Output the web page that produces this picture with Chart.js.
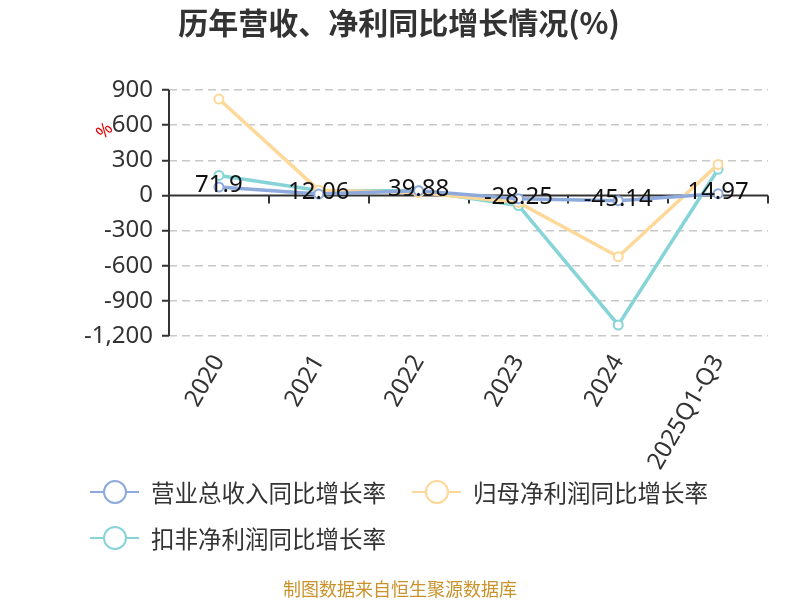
<!DOCTYPE html>
<html lang="zh-CN">
<head>
    <meta charset="UTF-8">
    <title>历年营收、净利同比增长情况(%)</title>
    <script src="https://cdn.jsdelivr.net/npm/chart.js"></script>
    <style>
        html, body { margin: 0; padding: 0; background: #fff; }
        #wrap { width: 800px; height: 600px; position: relative; }
    </style>
</head>
<body>
<div id="wrap"><canvas id="growthChart" width="800" height="600"></canvas></div>
<script>
    // 数据
    const categories = ['2020', '2021', '2022', '2023', '2024', '2025Q1-Q3'];
    const revenueGrowth = [71.9, 12.06, 39.88, -28.25, -45.14, 14.97];
    const netProfitGrowth = [823, 45, 25, -60, -523, 265];
    const deductedProfitGrowth = [171, 43, 40, -86, -1106, 223];
    const yTicks = [900, 600, 300, 0, -300, -600, -900, -1200];

    const seriesNames = ['营业总收入同比增长率', '归母净利润同比增长率', '扣非净利润同比增长率'];
    const seriesColors = ['#8eaadc', '#fdd898', '#86d4d8'];

    const numFont = "'Noto Sans', 'Noto Sans CJK SC', sans-serif";
    const cjkFont = "'Noto Sans CJK SC', 'Noto Sans', sans-serif";
    Chart.defaults.font.family = numFont;

    function makeSet(label, data, color) {
        return {
            label: label,
            data: data,
            borderColor: color,
            backgroundColor: '#fff',
            borderWidth: 3.5,
            pointRadius: 4.5,
            pointBorderWidth: 2,
            pointBackgroundColor: '#fff',
            pointBorderColor: color,
            tension: 0
        };
    }

    // 标题、坐标轴线、数据标签、图例、脚注
    const decor = {
        id: 'decor',
        beforeDatasetsDraw(chart) {
            const ctx = chart.ctx;
            const x = chart.scales.x, y = chart.scales.y;
            const y0 = y.getPixelForValue(0);
            ctx.save();
            ctx.strokeStyle = '#333';
            ctx.lineWidth = 2;
            ctx.beginPath();
            ctx.moveTo(x.left, y0);
            ctx.lineTo(x.right, y0);
            ctx.moveTo(x.left, y.top);
            ctx.lineTo(x.left, y.bottom);
            // 类目分界刻度
            const step = (x.right - x.left) / categories.length;
            for (let i = 1; i <= categories.length; i++) {
                const px = Math.round(x.left + step * i);
                ctx.moveTo(px, y0);
                ctx.lineTo(px, y0 + 8);
            }
            ctx.stroke();
            ctx.restore();
        },
        afterDraw(chart) {
            const ctx = chart.ctx;
            ctx.save();
            // 标题
            ctx.fillStyle = '#333';
            ctx.font = 'bold 30px ' + cjkFont;
            ctx.textAlign = 'center';
            ctx.textBaseline = 'middle';
            ctx.fillText('历年营收、净利同比增长情况(%)', 399, 23);

            // 单位
            ctx.save();
            ctx.translate(105, 131);
            ctx.rotate(-Math.PI / 4);
            ctx.fillStyle = '#e00';
            ctx.font = '18px ' + numFont;
            ctx.fillText('%', 0, 0);
            ctx.restore();

            // 营收数据标签
            const meta = chart.getDatasetMeta(0);
            ctx.fillStyle = '#111';
            ctx.font = '24px ' + numFont;
            meta.data.forEach((pt, i) => {
                ctx.fillText(String(revenueGrowth[i]), pt.x, pt.y - 2);
            });

            // 图例
            const items = [
                { x: 90, y: 492 },
                { x: 412, y: 492 },
                { x: 90, y: 538 }
            ];
            ctx.textAlign = 'left';
            ctx.font = '23.5px ' + cjkFont;
            items.forEach((it, i) => {
                ctx.strokeStyle = seriesColors[i];
                ctx.lineWidth = 2;
                ctx.beginPath();
                ctx.moveTo(it.x, it.y);
                ctx.lineTo(it.x + 14, it.y);
                ctx.moveTo(it.x + 36, it.y);
                ctx.lineTo(it.x + 49, it.y);
                ctx.stroke();
                ctx.beginPath();
                ctx.arc(it.x + 25, it.y, 11, 0, Math.PI * 2);
                ctx.fillStyle = '#fff';
                ctx.fill();
                ctx.stroke();
                ctx.fillStyle = '#333';
                ctx.fillText(seriesNames[i], it.x + 61, it.y + 1);
            });

            // 脚注
            ctx.textAlign = 'center';
            ctx.fillStyle = '#c9922b';
            ctx.font = '18px ' + cjkFont;
            ctx.fillText('制图数据来自恒生聚源数据库', 400, 589);
            ctx.restore();
        }
    };

    new Chart(document.getElementById('growthChart'), {
        type: 'line',
        data: {
            labels: categories,
            datasets: [
                makeSet(seriesNames[0], revenueGrowth, seriesColors[0]),
                makeSet(seriesNames[1], netProfitGrowth, seriesColors[1]),
                makeSet(seriesNames[2], deductedProfitGrowth, seriesColors[2])
            ]
        },
        options: {
            responsive: false,
            animation: false,
            layout: { padding: { top: 90, right: 32, left: 0, bottom: 0 } },
            plugins: {
                legend: { display: false },
                title: { display: false },
                tooltip: { enabled: false }
            },
            scales: {
                x: {
                    offset: true,
                    grid: { display: false },
                    border: { display: false },
                    ticks: {
                        color: '#333',
                        font: { size: 24 },
                        minRotation: 60,
                        maxRotation: 60,
                        autoSkip: false,
                        padding: 6
                    },
                    afterFit(scale) { scale.height = 264; }
                },
                y: {
                    min: -1200,
                    max: 900,
                    afterBuildTicks(scale) {
                        scale.ticks = yTicks.map(v => ({ value: v }));
                    },
                    grid: {
                        color: ctx => ctx.tick && ctx.tick.value === 0 ? 'rgba(0,0,0,0)' : '#c8c8c8',
                        lineWidth: 1.5,
                        tickColor: '#333',
                        tickBorderDash: [1, 0],
                        tickLength: 7,
                        tickWidth: 2
                    },
                    border: { display: false, dash: [8, 5] },
                    ticks: {
                        color: '#333',
                        font: { size: 24 },
                        padding: 9,
                        callback: v => v.toLocaleString('en-US')
                    },
                    afterFit(scale) { scale.width = 169; }
                }
            }
        },
        plugins: [decor]
    });
</script>
</body>
</html>
